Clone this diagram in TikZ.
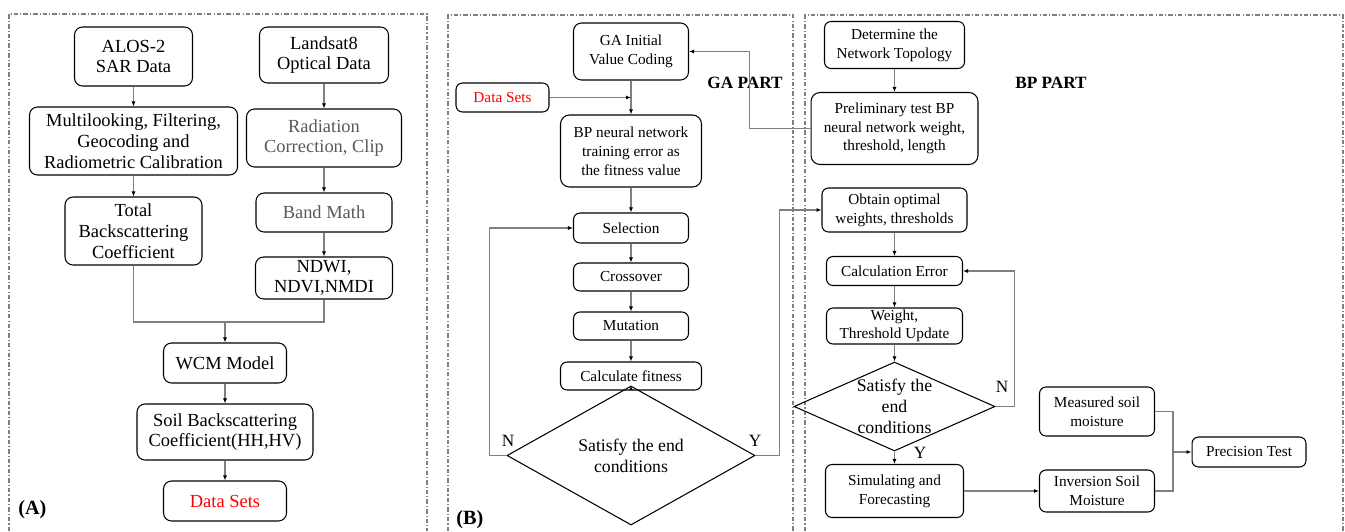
\documentclass[tikz,border=0pt]{standalone}
\usepackage{fontspec}
\setmainfont{Liberation Serif}
\usetikzlibrary{shapes.geometric,arrows.meta}

\tikzset{
  box/.style={draw, line width=0.6pt, rounded corners=1.6mm, inner sep=0pt, align=center},
  boxA/.style={box, font=\fontsize{10.5}{11.8}\selectfont},
  boxB/.style={box, rounded corners=1.3mm, font=\fontsize{8.7}{10.7}\selectfont},
  cond/.style={draw, diamond, line width=0.6pt, inner sep=0pt, align=center, font=\fontsize{10.1}{11.9}\selectfont},
  link/.style={draw=gray, line width=0.6pt, -{Latex[black,length=1mm,width=0.8mm]}},
  plain/.style={draw=gray, line width=0.6pt},
  panel/.style={draw=gray, line width=0.7pt, dash pattern=on 2.5pt off 1.2pt on 0.6pt off 1.2pt},
  yn/.style={font=\fontsize{9.8}{10}\selectfont, inner sep=0pt},
  parttitle/.style={font=\bfseries\fontsize{9.8}{10}\selectfont, inner sep=0pt},
  tag/.style={font=\bfseries\fontsize{11.5}{12}\selectfont, inner sep=0pt, anchor=west}
}

\begin{document}
\begin{tikzpicture}[x=0.02cm, y=-0.02cm]
\useasboundingbox (0,0) rectangle (1345,531);

% panel frames
\draw[panel] (9,531) -- (9,14) -- (427,14) -- (427,531);
\draw[panel] (448,531) -- (448,15) -- (793,15) -- (793,531);
\draw[panel] (805,531) -- (805,15) -- (1343,15) -- (1343,531);

% (A) data preparation
\node[boxA, minimum width=2.36cm, minimum height=1.18cm] (alos) at (133.5,56.5) {ALOS-2\\SAR Data};
\node[boxA, minimum width=2.58cm, minimum height=1.12cm] (landsat) at (324,55) {Landsat8\\Optical Data};
\node[boxA, minimum width=4.16cm, minimum height=1.36cm] (multi) at (133.5,141) {Multilooking, Filtering,\\Geocoding and\\Radiometric Calibration};
\node[boxA, minimum width=3.10cm, minimum height=1.16cm, text=black!65] (radcorr) at (324,138) {Radiation\\Correction, Clip};
\node[boxA, minimum width=2.74cm, minimum height=1.36cm] (totalbs) at (133.5,231) {Total\\Backscattering\\Coefficient};
\node[boxA, minimum width=2.72cm, minimum height=0.78cm, text=black!65] (bandmath) at (324,212.5) {Band Math};
\node[boxA, minimum width=2.74cm, minimum height=0.84cm] (ndwi) at (324,278) {NDWI,\\NDVI,NMDI};
\node[boxA, minimum width=2.46cm, minimum height=0.80cm] (wcm) at (225,363) {WCM Model};
\node[boxA, minimum width=3.52cm, minimum height=1.12cm] (soilbs) at (225,432) {Soil Backscattering\\Coefficient(HH,HV)};
\node[boxA, minimum width=2.46cm, minimum height=0.80cm, text=red] (dataA) at (225,501) {Data Sets};
\node[tag] (tagA) at (18,510) {(A)};
\coordinate (mergeA) at (225,322);

\draw[link] (alos) -- (multi);
\draw[link] (multi) -- (totalbs);
\draw[link] (landsat) -- (radcorr);
\draw[link] (radcorr) -- (bandmath);
\draw[link] (bandmath) -- (ndwi);
\draw[plain] (totalbs.south) |- (mergeA) -| (ndwi.south);
\draw[link] (mergeA) -- (wcm);
\draw[link] (wcm) -- (soilbs);
\draw[link] (soilbs) -- (dataA);

% (B) GA part
\node[boxB, rounded corners=1.6mm, minimum width=2.30cm, minimum height=1.14cm] (gainit) at (631,51.5) {GA Initial\\Value Coding};
\node[boxB, minimum width=1.86cm, minimum height=0.58cm, text=red] (dataB) at (502.5,97.5) {Data Sets};
\node[boxB, rounded corners=1.8mm, minimum width=2.82cm, minimum height=1.44cm] (bpnn) at (631,151) {BP neural network\\training error as\\the fitness value};
\node[boxB, minimum width=2.30cm, minimum height=0.60cm] (selection) at (631,228) {Selection};
\node[boxB, minimum width=2.30cm, minimum height=0.56cm] (crossover) at (631,277) {Crossover};
\node[boxB, minimum width=2.30cm, minimum height=0.56cm] (mutation) at (631,326) {Mutation};
\node[boxB, minimum width=2.82cm, minimum height=0.56cm] (calcfit) at (631,376) {Calculate fitness};
\node[cond, minimum width=4.96cm, minimum height=1.74cm] (diamB) at (631,455.5) {Satisfy the end\\conditions};
\node[yn] (nB) at (508,441) {N};
\node[yn] (yB) at (755,441) {Y};
\node[parttitle] (gapart) at (745,83) {GA PART};
\node[tag] (tagB) at (456,520) {(B)};

\draw[link] (gainit) -- (bpnn);
\draw[link] (dataB.east) -- (dataB.east -| gainit.south);
\draw[link] (bpnn) -- (selection);
\draw[link] (selection) -- (crossover);
\draw[link] (crossover) -- (mutation);
\draw[link] (mutation) -- (calcfit);
\draw[link] (calcfit) -- (diamB.north);
\draw[link] (diamB.west) -- ++(-17,0) |- (selection.west);

% BP part
\node[boxB, minimum width=2.80cm, minimum height=0.94cm] (determine) at (894.5,45) {Determine the\\Network Topology};
\node[boxB, rounded corners=1.8mm, minimum width=3.34cm, minimum height=1.44cm] (prelim) at (894.5,128.5) {Preliminary test BP\\neural network weight,\\threshold, length};
\node[boxB, minimum width=2.90cm, minimum height=0.88cm] (obtain) at (894.5,210) {Obtain optimal\\weights, thresholds};
\node[boxB, minimum width=2.72cm, minimum height=0.58cm] (calcerr) at (894.5,271) {Calculation Error};
\node[boxB, minimum width=2.72cm, minimum height=0.72cm, font=\fontsize{8.7}{10.2}\selectfont] (weight) at (894.5,326) {Weight,\\Threshold Update};
\node[cond, minimum width=4.02cm, minimum height=1.78cm,
  label={[align=center, inner sep=0pt, font=\fontsize{10.1}{12}\selectfont]center:Satisfy the\\end\\conditions}] (diamC) at (894.5,406.5) {};
\node[boxB, minimum width=2.76cm, minimum height=1.06cm] (simulate) at (894.5,491) {Simulating and\\Forecasting};
\node[boxB, minimum width=2.30cm, minimum height=0.98cm] (measured) at (1097,411.5) {Measured soil\\moisture};
\node[boxB, minimum width=2.30cm, minimum height=0.84cm] (inversion) at (1097,491) {Inversion Soil\\Moisture};
\node[boxB, minimum width=2.28cm, minimum height=0.60cm] (precision) at (1249,452) {Precision Test};
\node[yn] (nC) at (1002,387) {N};
\node[yn] (yC) at (920,453) {Y};
\node[parttitle] (bppart) at (1051,83) {BP PART};
\coordinate (mergeC) at (1173,452);

\draw[link] (determine) -- (prelim);
\draw[link] (prelim.west) -- ++(-61,0) |- (gainit.east);
\draw[link] (diamB.east) -- ++(24,0) |- (obtain.west);
\draw[link] (obtain) -- (calcerr);
\draw[link] (calcerr) -- (weight);
\draw[link] (weight) -- (diamC.north);
\draw[link] (diamC.east) -- ++(19,0) |- (calcerr.east);
\draw[link] (diamC.south) -- (simulate.north);
\draw[link] (simulate) -- (inversion);
\draw[plain] (measured.east) -| (mergeC) |- (inversion.east);
\draw[link] (mergeC) -- (precision);
\end{tikzpicture}
\end{document}
